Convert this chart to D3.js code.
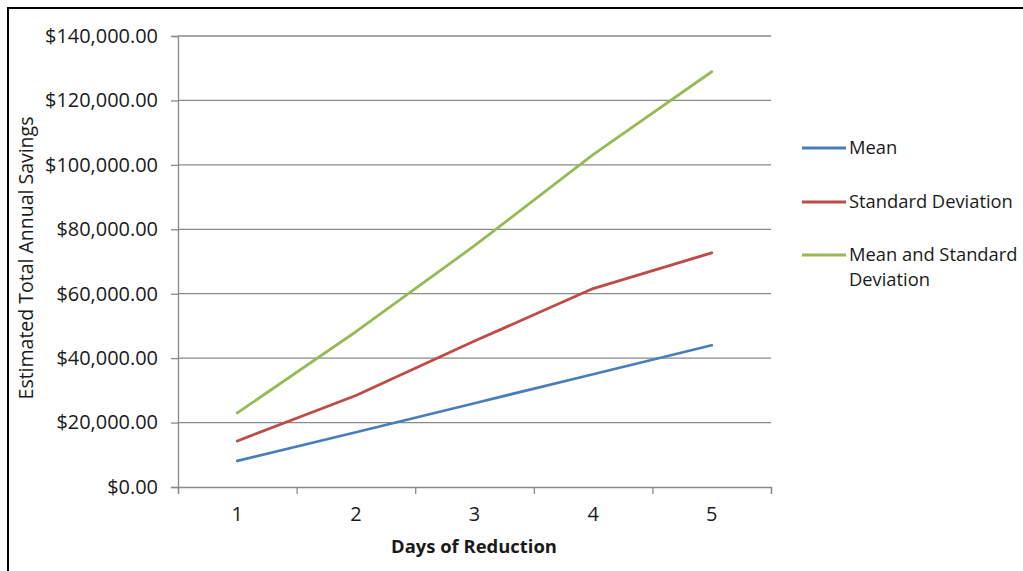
<!DOCTYPE html>
<html><head><meta charset="utf-8">
<script src="https://cdn.jsdelivr.net/npm/d3@7/dist/d3.min.js"></script>
<style>
html,body{margin:0;padding:0;background:#fff;}
svg{display:block;}
text{font-family:"Open Sans","Lato",sans-serif;fill:#1a1a1a;}
</style></head>
<body>
<svg id="chart" width="1023" height="571"></svg>
<script>
const categories = [1, 2, 3, 4, 5];
const seriesNames = ["Mean", "Standard Deviation", "Mean and Standard Deviation"];
const meanValues = [8100, 17000, 26000, 35000, 44000];
const sdValues = [14300, 28400, 45300, 61600, 72700];
const meanSdValues = [23000, 48200, 74900, 103200, 128900];
const yTicks = [0, 20000, 40000, 60000, 80000, 100000, 120000, 140000];
const colors = ["#4A7EBB", "#BE4B48", "#98B954"];

const series = [meanValues, sdValues, meanSdValues];

const svg = d3.select("#chart");
const FONT = "Open Sans, Lato, sans-serif";

// size a text so its width matches the reference width
function fitWidth(sel, target) {
  const w = sel.node().getComputedTextLength();
  const fs = parseFloat(sel.attr("font-size"));
  sel.attr("font-size", (fs * target / w).toFixed(2));
}

// frame (top and left border)
svg.append("line").attr("x1", 7).attr("x2", 1023).attr("y1", 8).attr("y2", 8)
  .attr("stroke", "#000").attr("stroke-width", 2);
svg.append("line").attr("x1", 8).attr("x2", 8).attr("y1", 7).attr("y2", 571)
  .attr("stroke", "#000").attr("stroke-width", 2);

const plotLeft = 178, plotRight = 771, plotTop = 36, plotBottom = 487;

const x = d3.scaleBand().domain(categories).range([plotLeft, plotRight]).padding(0);
const xEdges = d3.scaleLinear().domain([0, categories.length]).range([plotLeft, plotRight]);
const y = d3.scaleLinear().domain([0, 140000]).range([plotBottom, plotTop]);

// gridlines
svg.append("g").selectAll("line").data(yTicks.filter(d => d > 0)).join("line")
  .attr("x1", plotLeft).attr("x2", plotRight)
  .attr("y1", d => y(d)).attr("y2", d => y(d))
  .attr("stroke", "#8a8a8a").attr("stroke-width", 1.3);

// y axis
const fmt = d3.format("$,.2f");
const yAxis = svg.append("g").attr("transform", `translate(${plotLeft},0)`)
  .call(d3.axisLeft(y).tickValues(yTicks).tickFormat(fmt).tickSize(7).tickPadding(13));
yAxis.select(".domain").attr("stroke", "#8a8a8a").attr("stroke-width", 1.3);
yAxis.selectAll(".tick line").attr("stroke", "#8a8a8a").attr("stroke-width", 1.3);
yAxis.selectAll(".tick text").attr("font-size", 16).attr("font-family", FONT).attr("fill", "#1a1a1a");
{
  const topLabel = yAxis.selectAll(".tick text").filter(d => d === 140000);
  const w = topLabel.node().getComputedTextLength();
  const fs = 16 * 113 / w;
  yAxis.selectAll(".tick text").attr("font-size", fs.toFixed(2));
}

// x axis: tick marks at band edges
const xAxisTicks = svg.append("g").attr("transform", `translate(0,${plotBottom})`)
  .call(d3.axisBottom(xEdges).tickValues(d3.range(0, categories.length + 1)).tickFormat("").tickSize(7));
xAxisTicks.select(".domain").attr("stroke", "#8a8a8a").attr("stroke-width", 1.3);
xAxisTicks.selectAll(".tick line").attr("stroke", "#8a8a8a").attr("stroke-width", 1.3);

// x axis labels at band centers
const xAxisLabels = svg.append("g").attr("transform", `translate(0,${plotBottom})`)
  .call(d3.axisBottom(x).tickSize(0).tickPadding(20));
xAxisLabels.select(".domain").remove();
xAxisLabels.selectAll(".tick text").attr("font-size", yAxis.select(".tick text").attr("font-size"))
  .attr("font-family", FONT).attr("fill", "#1a1a1a");

// lines
const line = d3.line().x((d, i) => x(categories[i]) + x.bandwidth() / 2).y(d => y(d));
svg.append("g").selectAll("path").data(series).join("path")
  .attr("d", d => line(d))
  .attr("fill", "none")
  .attr("stroke", (d, i) => colors[i])
  .attr("stroke-width", 2.8)
  .attr("stroke-linejoin", "round")
  .attr("stroke-linecap", "round");

// axis titles
const xTitle = svg.append("text").attr("x", 474).attr("y", 553).attr("text-anchor", "middle")
  .attr("font-size", 16).attr("font-weight", "bold").text("Days of Reduction");
fitWidth(xTitle, 166);
const yTitle = svg.append("text").attr("transform", "translate(33,258) rotate(-90)").attr("text-anchor", "middle")
  .attr("font-size", 16).text("Estimated Total Annual Savings");
fitWidth(yTitle, 283);

// legend
const legendY = [148, 202, 255];
const legendLabels = [["Mean"], ["Standard Deviation"], ["Mean and Standard", "Deviation"]];
const lg = svg.append("g");
const probe = lg.append("text").attr("font-size", 16).text("Standard Deviation");
const legendFs = (16 * 164 / probe.node().getComputedTextLength()).toFixed(2);
probe.remove();
seriesNames.forEach((name, i) => {
  lg.append("line").attr("x1", 802).attr("x2", 846).attr("y1", legendY[i]).attr("y2", legendY[i])
    .attr("stroke", colors[i]).attr("stroke-width", 2.8);
  const t = lg.append("text").attr("x", 849).attr("y", legendY[i] + 6).attr("font-size", legendFs);
  legendLabels[i].forEach((s, j) => {
    t.append("tspan").attr("x", 849).attr("dy", j === 0 ? 0 : 25).text(s);
  });
});
</script>
</body></html>
